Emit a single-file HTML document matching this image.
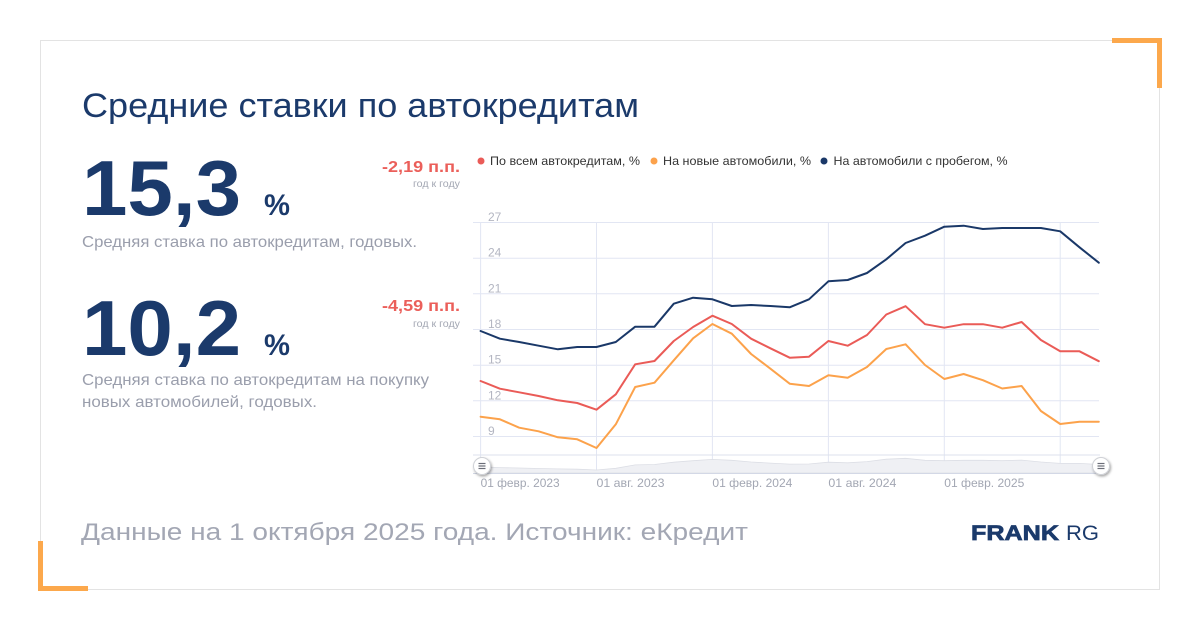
<!DOCTYPE html>
<html><head><meta charset="utf-8">
<style>
html,body{margin:0;padding:0;background:#fff;}
svg{display:block;}
text{font-family:"Liberation Sans","DejaVu Sans",sans-serif;}
</style></head>
<body>
<svg width="1200" height="630" viewBox="0 0 1200 630" xmlns="http://www.w3.org/2000/svg">
<defs>
<filter id="sh" x="-50%" y="-50%" width="200%" height="200%">
<feDropShadow dx="1" dy="1.5" stdDeviation="1.3" flood-color="#000" flood-opacity="0.35"/>
</filter>
</defs>
<rect width="1200" height="630" fill="#fff"/>
<rect x="40.5" y="40.5" width="1119" height="549" fill="none" stroke="#e3e3e3" stroke-width="1"/>
<!-- orange corners -->
<rect x="1112" y="38" width="50" height="5" fill="#fca84c"/>
<rect x="1157" y="38" width="5" height="50" fill="#fca84c"/>
<rect x="38" y="541" width="5" height="50" fill="#fca84c"/>
<rect x="38" y="586" width="50" height="5" fill="#fca84c"/>

<!-- title -->
<text x="82" y="117" font-size="34" fill="#1b3a6b" textLength="557" lengthAdjust="spacingAndGlyphs">Средние ставки по автокредитам</text>

<!-- block 1 -->
<text x="82" y="215" font-size="78" font-weight="bold" fill="#1b3a6b" textLength="159" lengthAdjust="spacingAndGlyphs">15,3</text>
<text x="264" y="215" font-size="30" font-weight="bold" fill="#1b3a6b" textLength="26" lengthAdjust="spacingAndGlyphs">%</text>
<text x="82" y="247" font-size="16" fill="#9a9eac" textLength="335" lengthAdjust="spacingAndGlyphs">Средняя ставка по автокредитам, годовых.</text>
<text x="460" y="172" font-size="16" font-weight="bold" fill="#eb5f5a" text-anchor="end" textLength="78" lengthAdjust="spacingAndGlyphs">-2,19 п.п.</text>
<text x="460" y="187" font-size="10" fill="#a3a7b3" text-anchor="end" textLength="47" lengthAdjust="spacingAndGlyphs">год к году</text>

<!-- block 2 -->
<text x="82" y="355" font-size="78" font-weight="bold" fill="#1b3a6b" textLength="159" lengthAdjust="spacingAndGlyphs">10,2</text>
<text x="264" y="355" font-size="30" font-weight="bold" fill="#1b3a6b" textLength="26" lengthAdjust="spacingAndGlyphs">%</text>
<text x="82" y="385" font-size="16" fill="#9a9eac" textLength="347" lengthAdjust="spacingAndGlyphs">Средняя ставка по автокредитам на покупку</text>
<text x="82" y="407" font-size="16" fill="#9a9eac" textLength="235" lengthAdjust="spacingAndGlyphs">новых автомобилей, годовых.</text>
<text x="460" y="311" font-size="16" font-weight="bold" fill="#eb5f5a" text-anchor="end" textLength="78" lengthAdjust="spacingAndGlyphs">-4,59 п.п.</text>
<text x="460" y="327" font-size="10" fill="#a3a7b3" text-anchor="end" textLength="47" lengthAdjust="spacingAndGlyphs">год к году</text>

<!-- footer -->
<text x="81" y="540" font-size="24" fill="#a3a7b4" textLength="667" lengthAdjust="spacingAndGlyphs">Данные на 1 октября 2025 года. Источник: еКредит</text>
<text x="971" y="540" font-size="21" font-weight="bold" fill="#1b3a6b" stroke="#1b3a6b" stroke-width="0.7" textLength="88" lengthAdjust="spacingAndGlyphs">FRANK</text>
<text x="1066" y="540" font-size="21" fill="#1b3a6b" textLength="33" lengthAdjust="spacingAndGlyphs">RG</text>

<!-- legend -->
<circle cx="481" cy="161" r="3.5" fill="#ea5b57"/>
<text x="490" y="165" font-size="12" fill="#333" textLength="150" lengthAdjust="spacingAndGlyphs">По всем автокредитам, %</text>
<circle cx="654" cy="161" r="3.5" fill="#fca24b"/>
<text x="663" y="165" font-size="12" fill="#333" textLength="148" lengthAdjust="spacingAndGlyphs">На новые автомобили, %</text>
<circle cx="824" cy="161" r="3.5" fill="#1a3868"/>
<text x="833.5" y="165" font-size="12" fill="#333" textLength="174" lengthAdjust="spacingAndGlyphs">На автомобили с пробегом, %</text>

<!-- grid -->
<g stroke="#e2e6f3" stroke-width="1">
<line x1="473" y1="222.5" x2="1099" y2="222.5"/>
<line x1="473" y1="258.2" x2="1099" y2="258.2"/>
<line x1="473" y1="293.8" x2="1099" y2="293.8"/>
<line x1="473" y1="329.5" x2="1099" y2="329.5"/>
<line x1="473" y1="365.2" x2="1099" y2="365.2"/>
<line x1="473" y1="400.8" x2="1099" y2="400.8"/>
<line x1="473" y1="436.5" x2="1099" y2="436.5"/>
<line x1="480.6" y1="222" x2="480.6" y2="473"/>
<line x1="596.5" y1="222" x2="596.5" y2="473"/>
<line x1="712.4" y1="222" x2="712.4" y2="473"/>
<line x1="828.4" y1="222" x2="828.4" y2="473"/>
<line x1="944.3" y1="222" x2="944.3" y2="473"/>
<line x1="1060.2" y1="222" x2="1060.2" y2="473"/>
</g>
<g font-size="12" fill="#b3b6c2">
<text x="488" y="221">27</text>
<text x="488" y="256.7">24</text>
<text x="488" y="292.3">21</text>
<text x="488" y="328">18</text>
<text x="488" y="363.7">15</text>
<text x="488" y="399.3">12</text>
<text x="488" y="435">9</text>
</g>

<!-- navigator -->
<polygon fill="#eff0f4" stroke="#dcdee5" stroke-width="0.8" points="480.6,466.8 499.9,467.6 519.2,468 538.6,468.5 557.9,468.9 577.2,469.2 596.5,470 615.8,468.3 635.2,464.9 654.5,464.5 673.8,462.2 693.1,460.7 712.4,459.4 731.8,460.3 751.1,462 770.4,463.1 789.7,464.1 809,464 828.4,462.2 847.7,462.8 867,461.6 886.3,459.2 905.6,458.3 925,460.3 944.3,460.7 963.6,460.3 982.9,460.3 1002.2,460.7 1021.6,460.1 1040.9,462 1060.2,463.4 1079.5,463.4 1098.8,464.5 1098.8,473 480.6,473"/>
<line x1="473" y1="455" x2="1100" y2="455" stroke="#dde1ec" stroke-width="1"/>
<line x1="473" y1="473.5" x2="1100" y2="473.5" stroke="#d3d8e6" stroke-width="1"/>

<!-- series -->
<g fill="none" stroke-width="2" stroke-linejoin="round" stroke-linecap="round">
<polyline stroke="#fca24b" points="480.6,416.7 499.9,419.3 519.2,427.7 538.6,431.3 557.9,437.3 577.2,439.3 596.5,448 615.8,424.3 635.2,387 654.5,382.7 673.8,360.3 693.1,338.3 712.4,324 731.8,333.7 751.1,354 770.4,368.7 789.7,383.7 809,386 828.4,375.3 847.7,377.7 867,367 886.3,349 905.6,344.3 925,365 944.3,379 963.6,374 982.9,380.2 1002.2,388.5 1021.6,386 1040.9,411 1060.2,424 1079.5,421.7 1098.8,421.7"/>
<polyline stroke="#ea5b57" points="480.6,381 499.9,388.7 519.2,392.3 538.6,396 557.9,400.3 577.2,403 596.5,409.7 615.8,394.3 635.2,364.3 654.5,361 673.8,341 693.1,327 712.4,315.7 731.8,324 751.1,338.7 770.4,348.3 789.7,357.7 809,356.7 828.4,341 847.7,345.7 867,335 886.3,314.5 905.6,306.2 925,324.2 944.3,327.7 963.6,324.2 982.9,324.2 1002.2,327.7 1021.6,322 1040.9,340 1060.2,351.3 1079.5,351.3 1098.8,361.2"/>
<polyline stroke="#1a3868" points="480.6,331 499.9,338.7 519.2,342 538.6,345.7 557.9,349.3 577.2,347 596.5,347 615.8,342 635.2,326.7 654.5,326.7 673.8,303.7 693.1,297.7 712.4,299.3 731.8,306 751.1,305 770.4,306 789.7,307.3 809,299.3 828.4,281.3 847.7,280 867,273 886.3,259.3 905.6,243 925,235.7 944.3,226.7 963.6,225.7 982.9,229 1002.2,228 1021.6,228 1040.9,228 1060.2,231.3 1079.5,247.3 1098.8,262.7"/>
</g>

<!-- handles -->
<g filter="url(#sh)">
<circle cx="482" cy="466" r="8.5" fill="#fff" stroke="#cfd1d6" stroke-width="1"/>
<circle cx="1101" cy="466" r="8.5" fill="#fff" stroke="#cfd1d6" stroke-width="1"/>
</g>
<g stroke="#6b6e78" stroke-width="1.2">
<line x1="478.5" y1="463.5" x2="485.5" y2="463.5"/>
<line x1="478.5" y1="466" x2="485.5" y2="466"/>
<line x1="478.5" y1="468.5" x2="485.5" y2="468.5"/>
<line x1="1097.5" y1="463.5" x2="1104.5" y2="463.5"/>
<line x1="1097.5" y1="466" x2="1104.5" y2="466"/>
<line x1="1097.5" y1="468.5" x2="1104.5" y2="468.5"/>
</g>

<!-- x labels -->
<g font-size="12" fill="#a3a7b3">
<text x="480.6" y="487" textLength="79" lengthAdjust="spacingAndGlyphs">01 февр. 2023</text>
<text x="596.5" y="487" textLength="68" lengthAdjust="spacingAndGlyphs">01 авг. 2023</text>
<text x="712.4" y="487" textLength="80" lengthAdjust="spacingAndGlyphs">01 февр. 2024</text>
<text x="828.4" y="487" textLength="68" lengthAdjust="spacingAndGlyphs">01 авг. 2024</text>
<text x="944.3" y="487" textLength="80" lengthAdjust="spacingAndGlyphs">01 февр. 2025</text>
</g>
</svg>
</body></html>
